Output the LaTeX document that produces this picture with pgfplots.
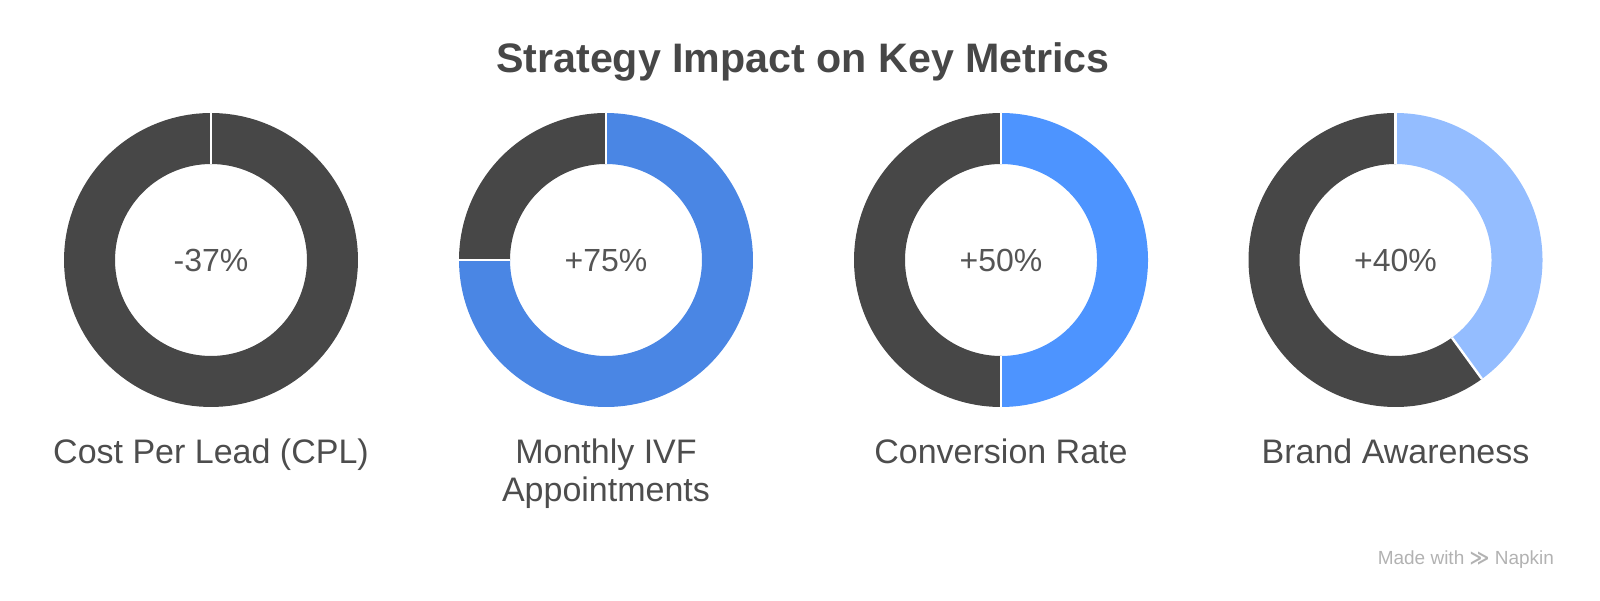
\documentclass[border=0pt]{standalone}
\usepackage{pgfplots}
\pgfplotsset{compat=1.18}
\usepackage{fontspec}
\setmainfont{Liberation Sans}
\newfontfamily\symfont{DejaVu Sans}
\definecolor{ringdark}{HTML}{474747}
\definecolor{blueA}{HTML}{4A86E4}
\definecolor{blueB}{HTML}{4D94FF}
\definecolor{blueC}{HTML}{94BDFF}
\definecolor{txtgray}{HTML}{555555}
\definecolor{lblgray}{HTML}{4D4D4D}
% segment values (percent of ring, clockwise from top)
\def\valA{100}  % Cost Per Lead: full dark ring
\def\valB{75}   % Monthly IVF Appointments
\def\valC{50}   % Conversion Rate
\def\valD{40}   % Brand Awareness
\def\rmid{121.5}
\def\rin{96}
\def\rout{147}
\pgfplotsset{
  donut/.style={
    scale only axis, width=160pt, height=160pt,
    xmin=-160, xmax=160, ymin=-160, ymax=160,
    hide axis, anchor=center, clip=false,
  },
  seg/.style={line width=25.5pt, line join=round, samples=120, no marks},
  sep/.style={white, line width=1.2pt, samples=2, no marks},
}
\begin{document}
\begin{tikzpicture}[x=0.5pt,y=0.5pt]
\path[use as bounding box] (0,0) rectangle (1600,600);
% title
\node[font=\bfseries\fontsize{20.6pt}{24pt}\selectfont, text=ringdark, anchor=base] at (803,527) {Strategy Impact on Key Metrics};

% Donut 1
\begin{axis}[donut, at={(211,340)}]
\addplot[seg, ringdark, domain=0:\valA] ({\rmid*sin(3.6*x)},{\rmid*cos(3.6*x)});
\addplot[sep, domain=\rin:\rout] ({x*sin(0)},{x*cos(0)});
\end{axis}
% Donut 2
\begin{axis}[donut, at={(606,340)}]
\addplot[seg, blueA, domain=0:\valB] ({\rmid*sin(3.6*x)},{\rmid*cos(3.6*x)});
\addplot[seg, ringdark, domain=\valB:100] ({\rmid*sin(3.6*x)},{\rmid*cos(3.6*x)});
\addplot[sep, domain=\rin:\rout] ({x*sin(0)},{x*cos(0)});
\addplot[sep, domain=\rin:\rout] ({x*sin(3.6*\valB)},{x*cos(3.6*\valB)});
\end{axis}
% Donut 3
\begin{axis}[donut, at={(1001,340)}]
\addplot[seg, blueB, domain=0:\valC] ({\rmid*sin(3.6*x)},{\rmid*cos(3.6*x)});
\addplot[seg, ringdark, domain=\valC:100] ({\rmid*sin(3.6*x)},{\rmid*cos(3.6*x)});
\addplot[sep, domain=\rin:\rout] ({x*sin(0)},{x*cos(0)});
\addplot[sep, domain=\rin:\rout] ({x*sin(3.6*\valC)},{x*cos(3.6*\valC)});
\end{axis}
% Donut 4
\begin{axis}[donut, at={(1395.5,340)}]
\addplot[seg, blueC, domain=0:\valD] ({\rmid*sin(3.6*x)},{\rmid*cos(3.6*x)});
\addplot[seg, ringdark, domain=\valD:100] ({\rmid*sin(3.6*x)},{\rmid*cos(3.6*x)});
\addplot[sep, domain=\rin:\rout] ({x*sin(0)},{x*cos(0)});
\addplot[sep, domain=\rin:\rout] ({x*sin(3.6*\valD)},{x*cos(3.6*\valD)});
\end{axis}

% centre values
\begin{scope}[every node/.style={font=\fontsize{16pt}{19pt}\selectfont, text=txtgray, anchor=base}]
\node at (211,328) {-37\%};
\node at (606,328) {+75\%};
\node at (1001,328) {+50\%};
\node at (1395.5,328) {+40\%};
\end{scope}
% labels
\begin{scope}[every node/.style={font=\fontsize{17pt}{20pt}\selectfont, text=lblgray, anchor=base}]
\node at (211,137) {Cost Per Lead (CPL)};
\node at (606,137) {Monthly IVF};
\node at (606,99) {Appointments};
\node at (1001,137) {Conversion Rate};
\node at (1395.5,137) {Brand Awareness};
\end{scope}
% footer
\node[font=\fontsize{9.5pt}{11pt}\selectfont, text=black!30, anchor=base east] at (1561,36) {Made with {\symfont\bfseries ≫} Napkin};
\end{tikzpicture}
\end{document}
